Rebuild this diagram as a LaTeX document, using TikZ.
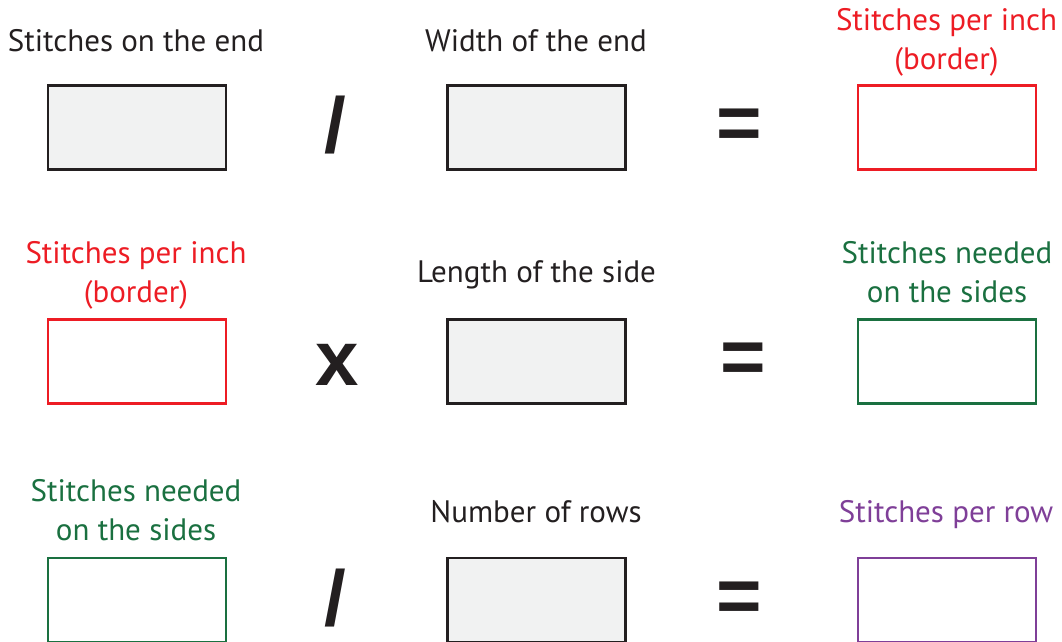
\documentclass[tikz,border=0pt]{standalone}
\usepackage{fontspec}
\setmainfont{PT Sans}
\newfontfamily\opfont{Liberation Sans}
\definecolor{ink}{HTML}{231F20}
\definecolor{boxfill}{HTML}{F1F2F2}
\definecolor{redc}{HTML}{ED1C24}
\definecolor{greenc}{HTML}{1A7040}
\definecolor{purplec}{HTML}{7F3F98}
\tikzset{
  lbl/.style={font=\fontsize{31}{39}\selectfont, text=ink, align=center, inner sep=0pt, anchor=base},
  abox/.style={draw=#1, fill=white, line width=2.6pt, minimum width=178pt, minimum height=84pt, inner sep=0pt},
  gbox/.style={abox=ink, fill=boxfill},
  op/.style={font=\opfont\bfseries\fontsize{78}{78}\selectfont, text=ink, inner sep=0pt, anchor=center}
}
\begin{document}
\begin{tikzpicture}[x=1pt,y=-1pt]
\useasboundingbox (0,0) rectangle (1062,641);
% row 1
\node[lbl] (t11) at (136,51) {Stitches on the end};
\node[lbl] (t12) at (536,51) {Width of the end};
\node[lbl, text=redc] (t13) at (946.5,69) {Stitches per inch\\(border)};
\node[gbox] (b11) at (137,127.7) {};
\node[gbox] (b12) at (536.5,127.7) {};
\node[abox=redc] (b13) at (947,127.7) {};
\node[op] (o11) at (335,125.5) {/};
\node[op] (o12) at (739,129.5) {=};
% row 2
\node[lbl, text=redc] (t21) at (136,302) {Stitches per inch\\(border)};
\node[lbl] (t22) at (536.5,282) {Length of the side};
\node[lbl, text=greenc] (t23) at (947,302) {Stitches needed\\on the sides};
\node[abox=redc] (b21) at (137,361.7) {};
\node[gbox] (b22) at (536.5,361.7) {};
\node[abox=greenc] (b23) at (947,361.7) {};
\node[op] (o21) at (337.5,365) {x};
\node[op] (o22) at (743,363.5) {=};
% row 3
\node[lbl, text=greenc] (t31) at (136,540) {Stitches needed\\on the sides};
\node[lbl] (t32) at (536,522) {Number of rows};
\node[lbl, text=purplec] (t33) at (946,522) {Stitches per row};
\node[abox=greenc] (b31) at (137,600) {};
\node[gbox] (b32) at (536.5,600) {};
\node[abox=purplec] (b33) at (947,600) {};
\node[op] (o31) at (335,598) {/};
\node[op] (o32) at (739,602) {=};
\end{tikzpicture}
\end{document}
